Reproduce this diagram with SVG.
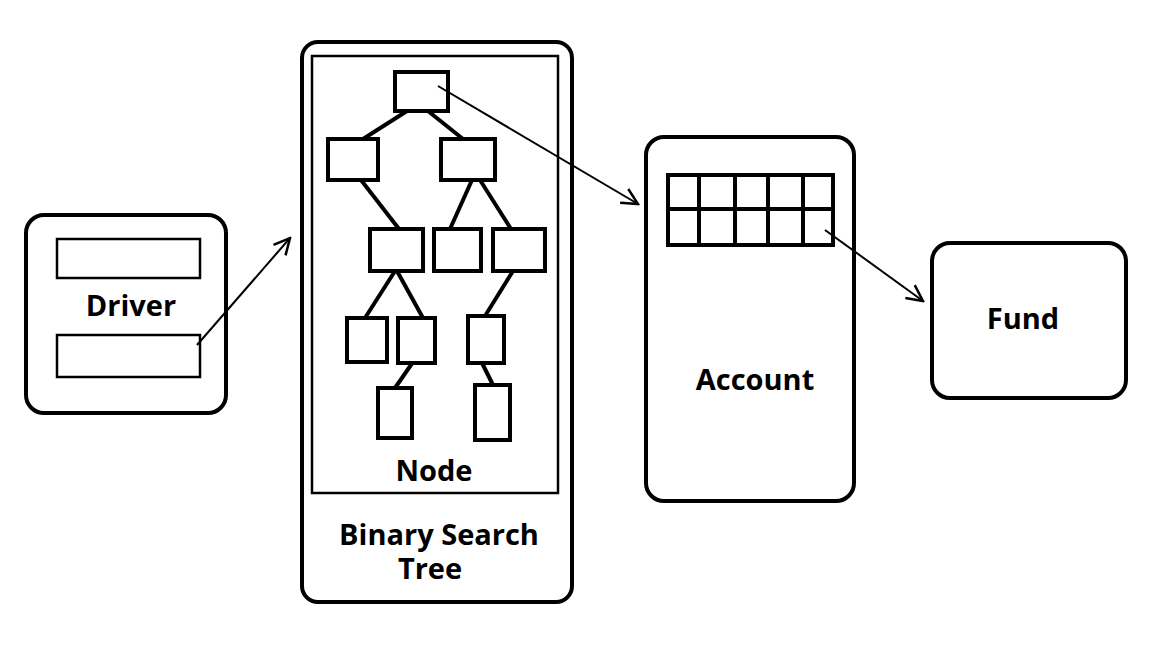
<svg xmlns="http://www.w3.org/2000/svg" width="1152" height="648" viewBox="0 0 1152 648">
<defs>
<style>
.outer{fill:#fff;stroke:#000;stroke-width:4}
.inner{fill:none;stroke:#000;stroke-width:2.5}
.tn{fill:#fff;stroke:#000;stroke-width:4}
.edge{stroke:#000;stroke-width:4;fill:none}
.conn{stroke:#000;stroke-width:2;fill:none}
.lbl{font-family:"Open Sans","Noto Sans","DejaVu Sans",sans-serif;font-weight:bold;font-size:29px;fill:#000;text-anchor:middle}
</style>
<marker id="arr" markerUnits="userSpaceOnUse" markerWidth="20" markerHeight="20" refX="18" refY="10" orient="auto">
<path d="M2,2 L18,10 L2,18" fill="none" stroke="#000" stroke-width="2.5"/>
</marker>
</defs>
<rect width="1152" height="648" fill="#fff"/>
<g id="driver">
<rect class="outer" x="26" y="215" width="200" height="198" rx="18"/>
<rect class="inner" x="57" y="239" width="143" height="39"/>
<rect class="inner" x="57" y="335" width="143" height="42"/>
<text class="lbl" x="131" y="316">Driver</text>
</g>
<g id="bst">
<rect class="outer" x="302" y="42" width="270" height="560" rx="16"/>
<rect class="inner" x="312" y="56" width="246" height="437"/>
<text class="lbl" x="434" y="481">Node</text>
<text class="lbl"><tspan x="439" y="545">Binary Search</tspan><tspan x="430" y="579">Tree</tspan></text>
<g id="tree-edges">
<line class="edge" x1="407" y1="111" x2="363" y2="139"/>
<line class="edge" x1="428" y1="111" x2="463" y2="139"/>
<line class="edge" x1="361" y1="180" x2="399" y2="229"/>
<line class="edge" x1="472" y1="180" x2="450" y2="229"/>
<line class="edge" x1="480" y1="180" x2="511" y2="229"/>
<line class="edge" x1="395" y1="271" x2="365" y2="318"/>
<line class="edge" x1="397" y1="271" x2="423" y2="318"/>
<line class="edge" x1="513" y1="271" x2="485" y2="316"/>
<line class="edge" x1="413" y1="362" x2="395" y2="388"/>
<line class="edge" x1="482" y1="363" x2="493" y2="385"/>
</g>
<g id="tree-nodes">
<rect class="tn" x="395" y="72" width="53" height="39"/>
<rect class="tn" x="328" y="139" width="50" height="41"/>
<rect class="tn" x="441" y="139" width="54" height="41"/>
<rect class="tn" x="370" y="229" width="53" height="42"/>
<rect class="tn" x="434" y="229" width="47" height="42"/>
<rect class="tn" x="493" y="229" width="52" height="42"/>
<rect class="tn" x="347" y="318" width="40" height="44"/>
<rect class="tn" x="398" y="318" width="37" height="45"/>
<rect class="tn" x="468" y="316" width="36" height="47"/>
<rect class="tn" x="378" y="388" width="34" height="50"/>
<rect class="tn" x="475" y="385" width="35" height="55"/>
</g>
</g>
<g id="account">
<rect class="outer" x="646" y="137" width="208" height="364" rx="18"/>
<rect class="tn" x="668" y="175" width="165" height="70"/>
<line class="edge" x1="668" y1="209" x2="833" y2="209"/>
<line class="edge" x1="699" y1="175" x2="699" y2="245"/>
<line class="edge" x1="735" y1="175" x2="735" y2="245"/>
<line class="edge" x1="768" y1="175" x2="768" y2="245"/>
<line class="edge" x1="803" y1="175" x2="803" y2="245"/>
<text class="lbl" x="755" y="390">Account</text>
</g>
<g id="fund">
<rect class="outer" x="932" y="243" width="194" height="155" rx="18"/>
<text class="lbl" x="1023" y="329">Fund</text>
</g>
<g id="connectors">
<line class="conn" x1="197" y1="345" x2="290" y2="238" marker-end="url(#arr)"/>
<line class="conn" x1="438" y1="86" x2="638" y2="204" marker-end="url(#arr)"/>
<line class="conn" x1="825" y1="230" x2="923" y2="301" marker-end="url(#arr)"/>
</g>
</svg>
